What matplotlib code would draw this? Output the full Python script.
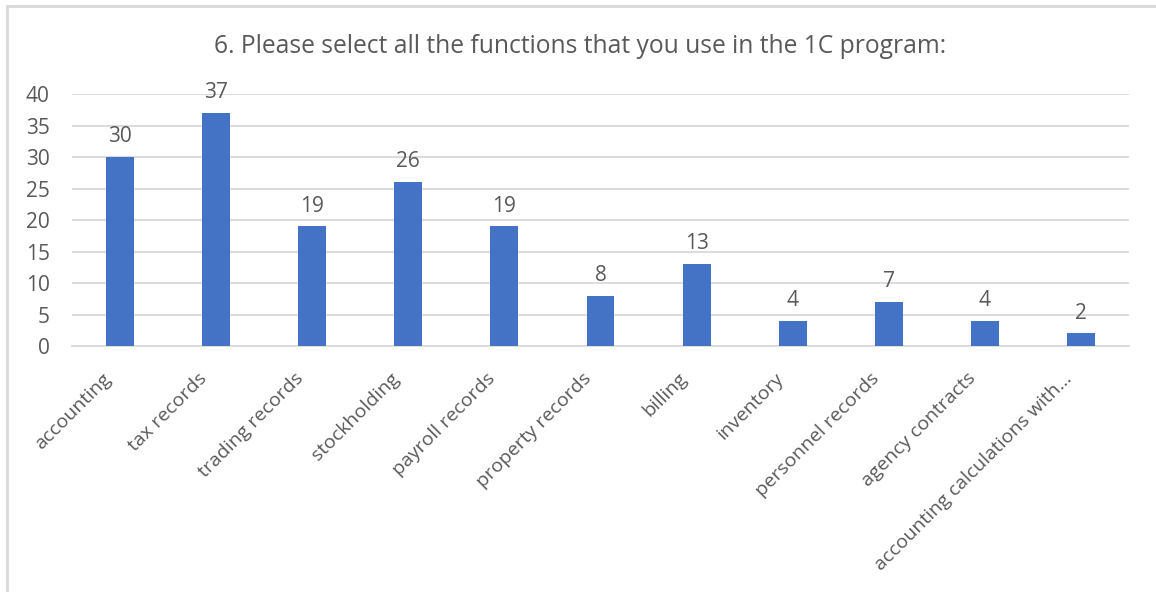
import matplotlib

matplotlib.use("Agg")
import matplotlib.pyplot as plt
from matplotlib.patches import Rectangle
from matplotlib.transforms import ScaledTranslation

categories = [
    "accounting", "tax records", "trading records", "stockholding",
    "payroll records", "property records", "billing", "inventory",
    "personnel records", "agency contracts", "accounting calculations with...",
]
counts = [30, 37, 19, 26, 19, 8, 13, 4, 7, 4, 2]
y_ticks = [0, 5, 10, 15, 20, 25, 30, 35, 40]

TEXT = "#595959"
plt.rcParams["font.family"] = ["Open Sans", "DejaVu Sans"]

fig = plt.figure(figsize=(11.56, 5.92), dpi=100)
# chart frame (right/bottom edges fall outside the crop)
fig.patches.append(Rectangle((0.006, -0.02), 1.1, 1.01, transform=fig.transFigure,
                             fill=False, edgecolor="#d9d9d9", linewidth=2))
ax = fig.add_axes([0.0623, 0.4155, 0.9143, 0.4257])

x = range(len(categories))
bars = ax.bar(x, counts, width=0.29, color="#4472C4", zorder=3)
ax.bar_label(bars, padding=7, fontsize=15, color=TEXT)

ax.set_xlim(-0.5, len(categories) - 0.5)
ax.set_ylim(0, 40)
ax.set_yticks(y_ticks)
ax.yaxis.grid(True, color="#d9d9d9", linewidth=1.3, zorder=0)
ax.tick_params(axis="both", length=0, labelcolor=TEXT)
ax.tick_params(axis="y", pad=16, labelsize=15)
ax.tick_params(axis="x", pad=20, labelsize=14)
for side in ["top", "right", "left"]:
    ax.spines[side].set_visible(False)
ax.spines["bottom"].set_color("#d9d9d9")
ax.spines["bottom"].set_linewidth(1.3)

ax.set_xticks(list(x))
ax.set_xticklabels(categories, rotation=45, ha="right", va="center",
                   rotation_mode="anchor")
shift = ScaledTranslation(-12 / 100, -2 / 100, fig.dpi_scale_trans)
for lbl in ax.get_xticklabels():
    lbl.set_transform(lbl.get_transform() + shift)

fig.text(0.5015, 0.922, "6. Please select all the functions that you use in the 1C program:",
         ha="center", va="center", fontsize=17.7, color=TEXT)

fig.savefig("out.png", dpi=100)
